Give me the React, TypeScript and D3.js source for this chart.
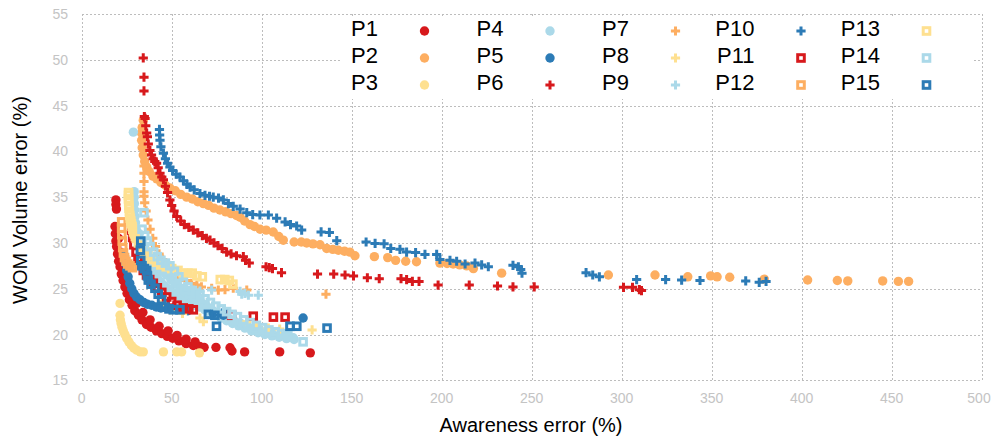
import React from "react";
import * as d3 from "d3";

type Pt = [number, number];

// Pareto fronts: [awareness error %, WOM volume error %]
const P1: Pt[] = [
  [19.0, 34.7], [19.0, 34.2], [19.3, 33.7],
  [18.5, 31.8], [18.7, 31.0], [19.0, 30.2], [19.4, 29.6], [19.9, 28.8], [20.5, 28.0], [21.3, 27.4],
  [22.0, 26.6], [23.0, 25.9], [24.0, 25.2], [25.2, 24.5], [26.5, 23.8], [28.0, 23.2], [29.5, 22.6],
  [31.5, 22.1], [33.5, 21.6], [36.0, 21.1], [38.5, 20.8], [41.5, 20.4], [44.5, 20.1], [47.5, 19.8],
  [50.5, 19.6], [54.0, 19.3], [58.0, 19.0], [62.0, 18.8], [65.5, 18.7], [68.0, 18.6],
  [20.5, 30.5], [21.5, 29.0], [23.0, 27.5], [25.0, 26.0], [27.5, 24.6], [30.5, 23.4], [34.0, 22.4],
  [38.0, 21.6], [43.0, 20.9], [48.0, 20.4], [53.0, 19.9], [58.0, 19.5], [63.0, 19.2],
  [74.6, 18.6], [82.4, 18.55], [83.5, 18.2], [90.5, 18.1], [110.0, 18.1], [127.0, 18.0],
];
const P2: Pt[] = [
  [34.2, 43.4], [33.6, 42.6], [33.2, 42.0], [33.3, 41.2], [33.6, 40.4], [34.2, 39.6], [35.0, 38.9],
  [36.1, 38.3], [37.5, 37.8], [39.5, 37.3], [41.7, 37.0], [44.0, 36.6], [46.5, 36.3], [49.0, 36.0],
  [52.0, 35.7], [55.0, 35.3], [58.3, 35.0], [61.5, 34.8], [64.5, 34.5], [67.6, 34.3], [70.5, 34.1],
  [73.5, 33.8], [76.8, 33.6], [80.0, 33.4], [83.0, 33.2], [86.0, 33.0], [88.0, 32.8], [90.5, 32.4],
  [93.5, 32.0], [96.0, 31.8], [99.1, 31.5], [102.5, 31.4], [106.4, 31.2], [109.5, 30.7], [112.0, 30.3],
  [118.0, 30.1], [122.0, 30.1], [125.0, 30.0], [128.5, 29.9], [132.4, 29.8], [136.1, 29.4],
  [139.5, 29.3], [142.6, 29.2], [146.0, 29.1], [149.0, 29.0], [151.8, 28.6], [162.6, 28.5],
  [170.0, 28.4], [174.4, 28.1], [180.0, 28.0], [186.0, 27.95], [199.0, 27.8], [203.0, 27.75],
  [206.4, 27.7], [210.0, 27.6], [213.9, 27.5], [217.6, 27.2], [233.3, 26.7], [292.6, 26.5],
  [318.5, 26.5], [336.7, 26.3], [349.4, 26.4], [353.0, 26.3], [360.0, 26.25], [379.2, 26.05],
  [403.3, 25.95], [419.8, 25.9], [425.6, 25.85], [445.0, 25.85], [453.7, 25.8], [459.4, 25.8],
];
const P3: Pt[] = [
  [21.3, 23.4], [21.3, 22.1], [21.5, 21.6], [21.9, 21.2], [22.4, 20.8], [23.1, 20.4], [24.0, 20.0],
  [25.0, 19.6], [26.2, 19.2], [27.6, 18.8], [29.0, 18.5], [30.6, 18.3], [32.5, 18.1], [34.2, 18.1],
  [45.4, 18.1], [52.8, 18.1], [55.5, 18.1], [65.4, 18.0],
];
const P4: Pt[] = [
  [28.7, 42.1], [29.2, 35.6], [29.2, 35.0], [29.3, 34.3], [29.4, 33.6], [29.6, 32.9], [29.9, 32.2],
  [30.3, 31.5], [30.8, 30.8], [31.5, 30.1], [32.3, 29.5], [33.3, 28.9], [34.5, 28.3], [35.8, 27.8],
  [37.2, 27.3], [38.8, 26.9], [40.5, 26.5], [42.3, 26.1], [44.2, 25.7], [46.2, 25.3], [48.3, 25.0],
  [50.5, 24.6], [52.8, 24.3], [55.2, 24.0], [57.7, 23.7], [60.2, 23.4], [62.8, 23.2], [65.5, 23.0],
  [68.3, 22.7], [71.2, 22.4], [74.2, 22.1], [77.3, 21.8], [80.5, 21.5], [83.8, 21.2], [87.2, 20.95],
  [90.7, 20.7], [94.3, 20.4], [98.0, 20.2], [101.8, 20.0], [105.7, 19.85], [109.7, 19.7],
  [113.8, 19.55], [118.0, 19.45],
  [32.0, 31.0], [33.5, 30.2], [35.0, 29.5], [36.7, 28.9], [38.5, 28.3], [40.5, 27.8], [42.5, 27.3],
  [44.7, 26.9], [47.0, 26.5], [49.5, 26.0], [52.0, 25.5], [54.5, 25.1], [57.0, 24.7], [59.5, 24.3],
  [62.0, 24.0], [64.5, 23.7], [67.0, 23.4], [70.0, 23.0], [73.0, 22.6], [76.0, 22.3], [79.0, 22.0],
  [82.0, 21.7], [85.0, 21.45], [88.5, 21.2], [92.0, 20.95], [95.5, 20.7], [99.0, 20.5], [102.5, 20.3],
  [106.0, 20.1], [110.0, 19.95], [114.0, 19.8], [117.5, 19.65],
];
const P5: Pt[] = [
  [23.8, 28.6], [24.3, 27.8], [25.0, 27.0], [25.8, 26.3], [26.7, 25.6], [27.8, 25.0], [29.0, 24.5],
  [30.5, 24.1], [32.4, 23.8], [34.5, 23.5], [36.5, 23.3], [38.9, 23.2], [41.5, 23.0], [44.0, 22.9],
  [47.0, 22.9], [50.0, 22.8], [53.0, 22.8], [56.0, 22.7], [59.0, 22.6], [73.1, 22.3], [78.7, 22.1],
  [79.6, 22.5], [123.0, 21.8],
];
const P6: Pt[] = [
  [34.2, 50.2], [34.6, 48.1], [34.6, 46.6], [34.8, 43.8], [35.2, 43.6], [35.6, 42.8], [36.1, 42.0],
  [36.5, 41.6], [37.0, 40.8], [37.9, 40.1], [38.8, 39.6], [39.7, 39.2], [40.6, 38.9], [41.6, 38.7],
  [42.5, 38.2], [43.5, 37.6], [44.5, 37.2], [45.4, 36.9], [46.5, 36.2], [47.7, 35.5], [49.0, 34.7],
  [50.0, 34.1], [51.3, 33.5], [52.8, 32.9], [55.0, 32.4], [57.0, 32.0], [59.5, 31.7], [62.0, 31.4],
  [64.5, 31.1], [67.0, 30.8], [69.3, 30.5], [71.3, 30.3], [73.5, 30.0], [75.7, 29.7], [78.0, 29.4],
  [80.5, 29.0], [83.0, 28.8], [86.0, 28.6], [89.8, 28.5], [91.0, 28.1], [93.1, 27.8], [102.4, 27.4],
  [104.2, 27.3], [106.0, 27.2], [111.0, 26.75], [131.0, 26.6], [140.0, 26.6], [146.3, 26.5],
  [151.0, 26.4], [158.7, 26.2], [165.3, 26.1], [177.4, 26.1], [180.5, 26.0], [183.7, 25.8],
  [187.4, 25.8], [198.0, 25.4], [215.3, 25.4], [231.0, 25.3], [239.6, 25.2], [251.4, 25.2],
  [301.0, 25.15], [306.0, 25.15], [309.8, 24.9], [311.0, 24.8],
];
const P7: Pt[] = [
  [34.6, 38.4], [34.6, 37.6], [34.6, 36.7], [34.6, 35.6], [34.6, 35.1], [35.0, 34.4], [35.8, 33.5],
  [36.8, 32.5], [38.0, 31.5], [39.5, 30.5], [41.0, 29.6], [43.0, 28.8], [45.0, 28.2], [47.5, 27.6],
  [50.0, 27.0], [52.5, 26.6], [55.0, 26.2], [58.0, 25.9], [61.0, 25.6], [64.0, 25.4], [66.5, 25.2],
  [72.2, 25.05], [75.9, 24.85], [79.6, 24.9], [84.2, 25.05], [91.7, 24.85], [135.7, 24.4],
];
const P8: Pt[] = [
  [45.0, 23.6], [49.0, 22.7], [56.0, 22.3], [65.7, 21.8], [67.6, 21.4], [91.7, 21.4], [97.2, 21.0],
  [103.7, 20.7], [110.0, 20.6], [128.0, 20.5],
];
const P9: Pt[] = [
  [52.0, 25.6], [55.0, 25.2], [58.3, 24.85], [62.0, 24.85], [65.7, 24.75], [72.2, 24.85],
  [88.0, 24.7], [88.9, 24.4], [90.7, 24.5], [92.6, 24.3], [98.1, 24.3],
];
const P10: Pt[] = [
  [43.2, 42.4], [43.3, 41.8], [43.5, 41.2], [44.0, 40.5], [45.4, 39.8], [46.5, 39.2], [47.7, 38.7],
  [49.0, 38.3], [50.5, 37.9], [52.5, 37.5], [54.6, 37.2], [56.5, 36.8], [58.5, 36.4], [60.2, 36.1],
  [62.5, 35.8], [65.7, 35.4], [68.5, 35.2], [71.0, 35.1], [73.1, 35.0], [76.0, 34.9], [78.7, 34.7],
  [81.5, 34.3], [84.2, 34.0], [88.0, 33.7], [91.7, 33.3], [95.0, 33.1], [99.0, 33.05], [103.7, 33.05],
  [108.3, 32.7], [113.0, 32.3], [116.0, 32.0], [119.4, 31.85], [122.2, 31.4], [133.0, 31.2],
  [137.6, 31.15], [141.7, 30.25], [158.0, 30.1], [163.0, 29.95], [168.0, 29.9], [171.7, 29.4],
  [176.8, 29.3], [180.5, 29.0], [185.5, 28.95], [190.7, 28.75], [197.2, 28.75], [199.0, 28.2],
  [204.6, 28.1], [208.3, 28.0], [213.0, 27.7], [218.5, 27.8], [222.2, 27.6], [225.9, 27.4],
  [239.6, 27.55], [242.6, 27.4], [243.9, 27.1], [244.6, 26.7], [280.2, 26.75], [283.9, 26.5],
  [287.6, 26.3], [308.3, 26.0], [324.4, 26.0], [333.3, 25.95], [343.5, 25.9], [368.9, 25.85],
  [376.4, 25.7], [380.2, 25.8],
];
const P11: Pt[] = [
  [27.8, 31.4], [28.3, 30.6], [29.0, 29.8], [30.2, 29.0], [31.3, 28.3], [32.6, 27.6], [34.2, 27.0],
  [36.0, 26.5], [37.8, 26.0], [39.8, 25.6], [42.0, 25.1], [44.5, 24.6], [47.2, 24.1], [50.0, 23.6],
  [53.0, 23.2], [56.4, 22.9], [59.5, 22.8], [62.0, 22.7], [83.3, 22.1], [95.3, 22.0], [106.5, 21.9],
  [113.0, 21.9],
];
const P12: Pt[] = [
  [22.2, 32.3], [22.2, 31.6], [22.3, 30.9], [22.5, 30.2], [22.8, 29.5], [23.2, 28.9], [23.8, 28.4],
  [24.6, 28.0], [25.6, 27.7], [26.8, 27.5], [28.2, 27.3],
];
const P13: Pt[] = [
  [26.0, 35.5], [26.0, 35.2], [26.0, 34.8], [26.1, 34.5], [26.2, 34.1], [26.3, 33.8], [26.5, 33.4],
  [26.7, 33.0], [27.0, 32.7], [27.3, 32.4], [27.6, 32.1], [28.0, 31.8], [28.4, 31.5], [28.8, 31.2],
  [29.3, 31.0], [29.8, 30.7], [30.3, 30.5], [31.5, 30.0], [33.0, 29.5], [34.8, 29.0], [36.8, 28.6],
  [39.0, 28.2], [41.5, 27.9], [44.0, 27.6], [47.0, 27.4], [50.0, 27.2], [53.5, 27.0], [56.5, 26.7],
  [59.0, 26.7], [61.4, 26.7], [64.0, 26.4], [67.0, 26.3], [77.0, 26.0], [79.5, 26.0], [82.0, 25.9],
  [84.0, 25.5],
];
const P14: Pt[] = [
  [34.6, 33.3], [33.5, 31.5], [35.0, 30.8], [36.5, 30.2], [38.0, 29.6], [40.0, 29.0], [42.0, 28.5],
  [44.0, 28.1], [46.5, 27.8], [49.0, 27.5], [51.5, 26.9], [54.0, 26.3], [56.5, 25.7], [59.0, 25.2],
  [61.5, 24.8], [63.5, 24.5], [65.7, 24.3], [68.5, 23.9], [71.5, 23.5], [74.5, 23.1], [77.5, 22.8],
  [80.5, 22.5], [83.5, 22.2], [86.5, 21.95], [90.0, 21.6], [93.5, 21.3], [97.0, 21.0], [100.5, 20.75],
  [104.0, 20.5], [107.5, 20.3], [111.0, 20.1], [114.5, 19.95], [123.0, 19.2],
];
const P15: Pt[] = [
  [32.8, 30.2], [32.6, 29.2], [32.8, 28.1], [33.5, 27.5], [34.8, 27.2], [36.1, 27.0], [36.5, 26.4],
  [37.0, 25.95], [38.5, 25.5], [40.7, 25.05], [42.5, 24.4], [44.4, 23.8], [46.3, 23.0], [48.5, 22.8],
  [50.9, 22.7], [54.6, 22.7], [70.4, 22.2], [74.0, 22.1], [74.9, 20.9], [115.7, 20.9], [119.5, 20.9],
  [136.3, 20.7],
];

const seriesNames = ["P1", "P2", "P3", "P4", "P5", "P6", "P7", "P8", "P9", "P10", "P11", "P12", "P13", "P14", "P15"];
const seriesData = [P1, P2, P3, P4, P5, P6, P7, P8, P9, P10, P11, P12, P13, P14, P15];

const xTicks = [0, 50, 100, 150, 200, 250, 300, 350, 400, 450, 500];
const yTicks = [15, 20, 25, 30, 35, 40, 45, 50, 55];

const palette = ["#d7191c", "#fdae61", "#fee090", "#abd9e9", "#2c7bb6"];
type Shape = "circle" | "plus" | "square";
const shapeOf = (i: number): Shape => (i < 5 ? "circle" : i < 10 ? "plus" : "square");
const colorOf = (i: number) => palette[i % 5];

const FONT = "'Liberation Sans', Arial, Helvetica, sans-serif";

function Marker({ x, y, shape, color }: { x: number; y: number; shape: Shape; color: string }) {
  if (shape === "circle") return <circle cx={x} cy={y} r={4.7} fill={color} />;
  if (shape === "plus")
    return (
      <path
        d={`M${x - 4.6},${y}H${x + 4.6}M${x},${y - 4.6}V${y + 4.6}`}
        stroke={color}
        strokeWidth={3}
        fill="none"
      />
    );
  return <rect x={x - 3.3} y={y - 3.3} width={6.6} height={6.6} fill="none" stroke={color} strokeWidth={3} />;
}

export default function App() {
  const W = 992;
  const H = 442;
  const x = d3.scaleLinear().domain([0, 500]).range([81.7, 981.7]);
  const y = d3.scaleLinear().domain([15, 55]).range([380.3, 14]);
  const px = (v: number) => Math.round(v) + 0.5;

  const gridColor = "#bdbdbd";
  const tickColor = "#c4c4c4";

  return (
    <svg
      width={W}
      height={H}
      viewBox={`0 0 ${W} ${H}`}
      style={{ position: "absolute", left: 0, top: 0, background: "#fff" }}
      fontFamily={FONT}
    >
      <rect width={W} height={H} fill="#fff" />
      <g>
        {xTicks.map((t) => (
          <line
            key={"gx" + t}
            x1={px(x(t))}
            x2={px(x(t))}
            y1={y(15)}
            y2={y(55)}
            stroke={gridColor}
            strokeDasharray="2,2"
            shapeRendering="crispEdges"
          />
        ))}
        {yTicks.map((t) => (
          <line
            key={"gy" + t}
            x1={x(0)}
            x2={x(500)}
            y1={px(y(t))}
            y2={px(y(t))}
            stroke={gridColor}
            strokeDasharray="2,2"
            shapeRendering="crispEdges"
          />
        ))}
      </g>
      <g fontSize={14} fill={tickColor}>
        {xTicks.map((t) => (
          <text key={"tx" + t} x={Math.min(x(t), 979)} y={403} textAnchor="middle">
            {t}
          </text>
        ))}
        {yTicks.map((t) => (
          <text key={"ty" + t} x={68} y={y(t) + 5} textAnchor="end">
            {t}
          </text>
        ))}
      </g>
      <text x={531} y={432} textAnchor="middle" fontSize={20} fill="#000">
        Awareness error (%)
      </text>
      <text
        transform={`translate(27,200) rotate(-90)`}
        textAnchor="middle"
        fontSize={20}
        fill="#000"
      >
        WOM Volume error (%)
      </text>

      <g>
        {seriesData.map((pts, i) => (
          <g key={seriesNames[i]}>
            {pts.map((p, j) => (
              <Marker key={j} x={x(p[0])} y={y(p[1])} shape={shapeOf(i)} color={colorOf(i)} />
            ))}
          </g>
        ))}
      </g>

      <g>
        <rect x={342} y={17} width={630} height={82} fill="#fff" />
        {seriesNames.map((name, i) => {
          const col = Math.floor(i / 3);
          const row = i % 3;
          const tx = 378 + col * 125.5;
          const ty = 31 + row * 27;
          return (
            <g key={"lg" + name}>
              <text x={tx} y={ty + 5} textAnchor="end" fontSize={22} fill="#000">
                {name}
              </text>
              <Marker x={tx + 46.5} y={ty} shape={shapeOf(i)} color={colorOf(i)} />
            </g>
          );
        })}
      </g>
    </svg>
  );
}
